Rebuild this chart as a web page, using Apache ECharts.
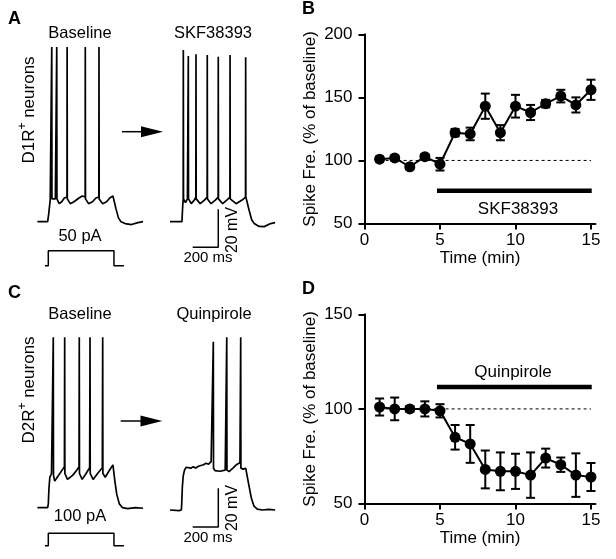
<!DOCTYPE html>
<html><head><meta charset="utf-8">
<script src="https://cdn.jsdelivr.net/npm/echarts@6/dist/echarts.min.js"></script>
<style>html,body{margin:0;padding:0;background:#fff}#c{width:616px;height:559px}</style>
</head><body><div id="c"></div>
<script>
// ---------- summary data (panels B and D) ----------
const timeMin = [1,2,3,4,5,6,7,8,9,10,11,12,13,14,15];
const skfMean = [101,102,95,103,97,122,121,143,122,143,138,145,151,144,156];
const skfErr  = [2,2,2,2,5,3,5,10,6,9,6,3,5,6,8];
const quinMean = [101,100,100,100,99,85,81.5,68,67,67,65,74,70.5,65,64];
const quinErr  = [4.5,6,1.5,4,3.5,6.5,10,10,10,9.3,12,5,3.8,11.5,7.4];
const xTicks = [0,5,10,15];
const yTicksB = [50,100,150,200];
const yTicksD = [50,100,150];
const baselineLine = [[1,100],[15,100]];
const skfBar = [[4.8,76],[15.05,76]];
const quinBar = [[4.8,111.6],[15.05,111.6]];

// ---------- example traces (time ms, membrane potential mV) ----------
const traceA_base = [[-85,-70],[-5,-70],[3,-66],[15,-58.5],[26,-57.5],[27,22],[28.5,-58],[40,-58.5],[55,-58],[65,-57],[66,22],[67.5,-58],[85,-60.5],[105,-59.5],[125,-57.5],[146,-57],[147,22],[148.5,-58],[172,-60.5],[200,-59.5],[240,-57.5],[265,-56.5],[288,-57],[289,22],[290.5,-58],[315,-60.5],[345,-59.5],[372,-57.5],[395,-57],[396,22],[397.5,-58],[425,-60.5],[455,-59.5],[480,-57.5],[505,-56.5],[515,-57],[528,-63],[548,-68],[568,-70],[600,-71],[650,-71.5],[700,-70.5],[740,-70]];
const traceA_skf = [[-96,-70],[-3,-70],[3,-62],[7,-58],[8,20.4],[9.5,-58],[25,-60],[40,-58],[46,-57],[47,17.2],[48.5,-58],[70,-60.5],[95,-58.5],[106,-57],[107,18.1],[108.5,-58],[140,-60.5],[175,-58.5],[194,-57],[195,17.7],[196.5,-58],[225,-60.5],[260,-58.5],[280,-57],[281,16.8],[282.5,-58],[315,-60.5],[350,-58.5],[372,-57],[373,17.7],[374.5,-58],[420,-60.5],[470,-58.5],[494,-57],[495,16.5],[496.5,-57],[508,-58],[522,-64],[542,-69],[562,-71],[600,-72.5],[640,-72.6],[690,-71],[725,-70.5]];
const stepA = [[-26,0],[0,0],[0,50],[513,50],[513,0],[591,0]];
const traceC_base = [[-85,-70],[-5,-70],[0,-68],[5,-60],[12,-54],[25,-52],[38,-51],[39,19.7],[40.5,-53],[50,-56],[70,-54],[100,-51],[126,-48.4],[128,19.7],[129.5,-52],[150,-55.1],[190,-53],[225,-50],[240,-48.4],[242,19.7],[243.5,-52],[265,-55.1],[295,-52],[323,-49],[326,19.7],[327.5,-52],[350,-55.1],[385,-52],[422,-49],[425,19.7],[426.5,-52],[445,-54],[480,-50],[505,-47.5],[510,-48],[520,-56],[535,-63],[555,-68],[580,-70],[620,-70.5],[680,-70],[740,-70.3]];
const traceC_quin = [[-91,-70],[-20,-70.3],[-3,-70],[0,-67],[5,-58],[12,-52],[22,-49],[35,-47.5],[50,-48.5],[70,-48],[90,-47.3],[110,-47.9],[130,-47],[150,-46.6],[170,-46.2],[190,-45.4],[210,-45.9],[230,-44.5],[245,-44],[247,18.6],[248.5,-48],[260,-49.3],[300,-49.6],[340,-49],[350,-48.5],[352,20.9],[353.5,-49],[370,-49.8],[400,-48],[430,-46],[455,-45.1],[460,-45],[461,20.9],[462.5,-48],[480,-48.5],[500,-48],[513,-48.3],[525,-57],[545,-64],[565,-68],[590,-69.5],[630,-70],[680,-69.7],[730,-70]];
const stepC = [[-26,0],[0,0],[0,100],[513,100],[513,0],[591,0]];
const scaleBarA = [[81,-83.5],[281,-83.5],[281,-63.5]];
const scaleBarC = [[86,-79],[286,-79],[286,-58.5]];

const FONT = 'Liberation Sans, Arial, sans-serif';
const KX = 0.128;   // px per ms
const KY = 1.9;     // px per mV

// build a hidden grid so that time 0 sits at x0 and vRef at y0
function tgrid(x0, y0, ky, vRef, vMin, vMax) {
  const tMin = -150, tMax = 800;
  return {
    grid: {left: x0 + tMin * KX, top: y0 - (vMax - vRef) * ky, width: (tMax - tMin) * KX,
           height: (vMax - vMin) * ky, containLabel: false, outerBoundsMode: 'none'},
    x: {type: 'value', min: tMin, max: tMax, show: false},
    y: {type: 'value', min: vMin, max: vMax, show: false}
  };
}
const tg = [
  tgrid(48.3, 221.7, KY, -70, -90, 40),   // 0 A baseline
  tgrid(182.3, 221.7, KY, -70, -90, 40),  // 1 A SKF
  tgrid(48.3, 265.7, 0.3, 0, -20, 80),    // 2 A step
  tgrid(48.3, 507.7, KY, -70, -90, 40),   // 3 C baseline
  tgrid(181.7, 510, KY, -70, -90, 40),    // 4 C quinpirole
  tgrid(48.3, 545.7, 0.124, 0, -20, 160)  // 5 C step
];

const grids = tg.map(g => g.grid);
const xAxes = tg.map((g, i) => Object.assign({gridIndex: i}, g.x));
const yAxes = tg.map((g, i) => Object.assign({gridIndex: i}, g.y));

// summary plot grids
function sumAxes(gi, yMin, yMax, yTicks) {
  xAxes.push({
    gridIndex: gi, type: 'value', min: 0, max: 15.3,
    name: 'Time (min)', nameLocation: 'middle', nameGap: 22,
    nameTextStyle: {fontFamily: FONT, fontSize: 17, color: '#000'},
    axisLine: {lineStyle: {color: '#000', width: 2}},
    axisTick: {show: true, length: 6, lineStyle: {color: '#000', width: 2}, customValues: xTicks},
    axisLabel: {fontFamily: FONT, fontSize: 17, color: '#000', margin: 8, customValues: xTicks},
    splitLine: {show: false}
  });
  yAxes.push({
    gridIndex: gi, type: 'value', min: yMin, max: yMax,
    name: 'Spike Fre. (% of baseline)', nameLocation: 'middle', nameGap: 46, nameRotate: 90,
    nameTextStyle: {fontFamily: FONT, fontSize: 17, color: '#000'},
    axisLine: {show: true, lineStyle: {color: '#000', width: 2}},
    axisTick: {show: true, length: 6, lineStyle: {color: '#000', width: 2}, customValues: yTicks},
    axisLabel: {fontFamily: FONT, fontSize: 17, color: '#000', margin: 12, customValues: yTicks},
    splitLine: {show: false}
  });
}
grids.push({left: 364.5, top: 34.3, width: 231, height: 189.2, containLabel: false, outerBoundsMode: 'none'});
sumAxes(6, 50, 200, yTicksB);
grids.push({left: 364.5, top: 314.3, width: 231, height: 189.2, containLabel: false, outerBoundsMode: 'none'});
sumAxes(7, 50, 150, yTicksD);

function traceSeries(data, gi, w) {
  return {type: 'line', xAxisIndex: gi, yAxisIndex: gi, data: data, symbol: 'none',
          lineStyle: {color: '#000', width: w || 1.7}, silent: true, animation: false};
}

function errSeries(mean, err, gi) {
  return {
    type: 'custom', xAxisIndex: gi, yAxisIndex: gi, animation: false, silent: true, z: 3,
    data: timeMin.map((t, i) => [t, mean[i], err[i]]),
    encode: {x: 0, y: 1},
    renderItem: function (params, api) {
      const x = api.value(0), m = api.value(1), e = api.value(2);
      const a = api.coord([x, m + e]), b = api.coord([x, m - e]);
      const w = 4.5, st = {stroke: '#000', lineWidth: 2};
      return {type: 'group', children: [
        {type: 'line', shape: {x1: a[0], y1: a[1], x2: b[0], y2: b[1]}, style: st},
        {type: 'line', shape: {x1: a[0] - w, y1: a[1], x2: a[0] + w, y2: a[1]}, style: st},
        {type: 'line', shape: {x1: b[0] - w, y1: b[1], x2: b[0] + w, y2: b[1]}, style: st}
      ]};
    }
  };
}
function meanSeries(mean, gi) {
  return {type: 'line', xAxisIndex: gi, yAxisIndex: gi, z: 4, animation: false, silent: true,
          data: timeMin.map((t, i) => [t, mean[i]]), symbol: 'circle', symbolSize: 11,
          itemStyle: {color: '#000'}, lineStyle: {color: '#000', width: 2}};
}
function plainLine(data, gi, w, type) {
  return {type: 'line', xAxisIndex: gi, yAxisIndex: gi, data: data, symbol: 'none', z: 2,
          animation: false, silent: true, lineStyle: {color: '#000', width: w, type: type || 'solid'}};
}

const series = [
  traceSeries(traceA_base, 0), traceSeries(traceA_skf, 1), traceSeries(stepA, 2, 1.5),
  traceSeries(scaleBarA, 1, 1.5),
  traceSeries(traceC_base, 3), traceSeries(traceC_quin, 4), traceSeries(stepC, 5, 1.5),
  traceSeries(scaleBarC, 4, 1.5),
  plainLine(baselineLine, 6, 1, [3, 3]), plainLine(skfBar, 6, 4.5),
  errSeries(skfMean, skfErr, 6), meanSeries(skfMean, 6),
  plainLine(baselineLine, 7, 1, [3, 3]), plainLine(quinBar, 7, 4.5),
  errSeries(quinMean, quinErr, 7), meanSeries(quinMean, 7)
];

function txt(x, y, s, opt) {
  opt = opt || {};
  return {type: 'text', x: x, y: y, rotation: opt.rot || 0, silent: true,
          style: {text: s, fill: '#000', font: (opt.bold ? 'bold ' : '') + (opt.size || 16) + 'px ' + FONT,
                  align: opt.align || 'center', verticalAlign: opt.va || 'middle', rich: opt.rich}};
}
function arrow(x1, x2, xh, y) {
  return {type: 'group', silent: true, children: [
    {type: 'line', shape: {x1: x1, y1: y, x2: xh + 2, y2: y}, style: {stroke: '#000', lineWidth: 1.5}},
    {type: 'polygon', shape: {points: [[xh, y - 5.5], [x2, y], [xh, y + 5.5]]}, style: {fill: '#000'}}
  ]};
}
const richSup = {
  n: {fontFamily: FONT, fontSize: 17, color: '#000'},
  s: {fontFamily: FONT, fontSize: 12, color: '#000', padding: [0, 0, 12, 0]}
};

const graphic = [
  txt(8, 10, 'A', {bold: true, size: 18, align: 'left', va: 'top'}),
  txt(80, 33, 'Baseline', {size: 16.5}),
  txt(213, 33, 'SKF38393', {size: 16.5}),
  txt(29, 110, '{n|D1R}{s|+}{n| neurons}', {rot: Math.PI / 2, rich: richSup}),
  arrow(122, 163, 141, 131.7),
  txt(80, 236, '50 pA', {size: 16.5}),
  txt(208, 258, '200 ms', {size: 15}),
  txt(233, 230, '20 mV', {size: 16, rot: Math.PI / 2}),
  txt(302, 0, 'B', {bold: true, size: 18, align: 'left', va: 'top'}),
  txt(518, 209, 'SKF38393', {size: 17}),
  txt(8, 284, 'C', {bold: true, size: 18, align: 'left', va: 'top'}),
  txt(80, 314, 'Baseline', {size: 16.5}),
  txt(214, 314, 'Quinpirole', {size: 16.5}),
  txt(29, 390, '{n|D2R}{s|+}{n| neurons}', {rot: Math.PI / 2, rich: richSup}),
  arrow(120.7, 162.3, 140.5, 421),
  txt(80, 516, '100 pA', {size: 16.5}),
  txt(208, 538, '200 ms', {size: 15}),
  txt(233, 508, '20 mV', {size: 16, rot: Math.PI / 2}),
  txt(302, 280, 'D', {bold: true, size: 18, align: 'left', va: 'top'}),
  txt(513, 372, 'Quinpirole', {size: 17})
];

const chart = echarts.init(document.getElementById('c'), null, {renderer: 'canvas'});
chart.setOption({
  backgroundColor: '#fff',
  animation: false,
  grid: grids, xAxis: xAxes, yAxis: yAxes,
  series: series,
  graphic: graphic
});
</script></body></html>
